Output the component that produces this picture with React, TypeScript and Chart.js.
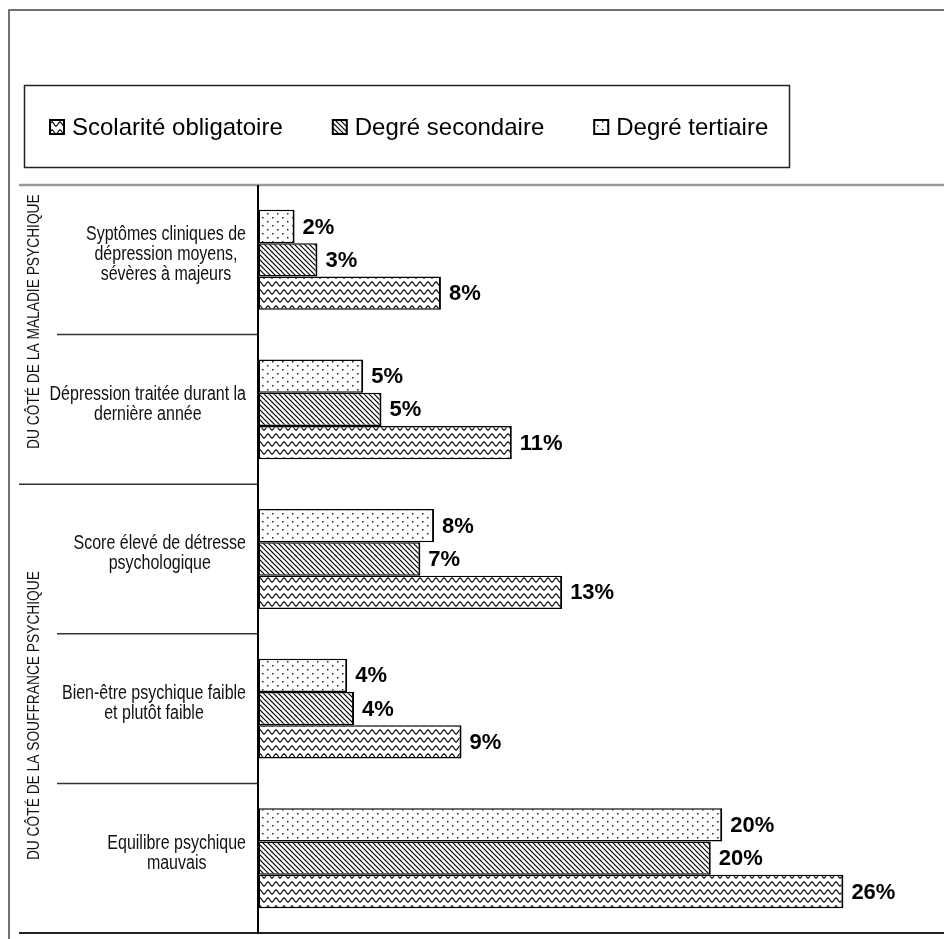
import { useEffect, useRef } from "react";
import { Chart, registerables } from "chart.js";

Chart.register(...registerables);

// Category labels (multi-line), top to bottom
const categories: string[][] = [
  ["Syptômes cliniques de", "dépression moyens,", "sévères à majeurs"],
  ["Dépression traitée durant la", "dernière année"],
  ["Score élevé de détresse", "psychologique"],
  ["Bien-être psychique faible", "et plutôt faible"],
  ["Equilibre psychique", "mauvais"],
];

// Share of people (%) per education level
const tertiaire = [1.6, 4.6, 7.7, 3.9, 20.3];
const secondaire = [2.6, 5.4, 7.1, 4.2, 19.8];
const obligatoire = [8.0, 11.1, 13.3, 8.9, 25.6];

const seriesNames = ["Degré tertiaire", "Degré secondaire", "Scolarité obligatoire"];

// Side groups: label and the first/last category index they cover
const groupNames = ["DU CÔTÉ DE LA MALADIE PSYCHIQUE", "DU CÔTÉ DE LA SOUFFRANCE PSYCHIQUE"];
const groupFirst = [0, 2];
const groupLast = [1, 4];

const xMax = 30;

const W = 944;
const H = 939;

function makeTile(w: number, h: number, paint: (g: CanvasRenderingContext2D) => void) {
  const c = document.createElement("canvas");
  c.width = w;
  c.height = h;
  const g = c.getContext("2d")!;
  g.fillStyle = "#fff";
  g.fillRect(0, 0, w, h);
  paint(g);
  return c;
}

function makePatterns(ctx: CanvasRenderingContext2D) {
  const dots = ctx.createPattern(
    makeTile(10, 8, (g) => {
      g.fillStyle = "#222";
      g.fillRect(2, 1, 1.5, 1.5);
      g.fillRect(7, 5, 1.5, 1.5);
    }),
    "repeat"
  )!;
  const hatch = ctx.createPattern(
    makeTile(5, 5, (g) => {
      g.strokeStyle = "#000";
      g.lineWidth = 1.2;
      for (const o of [-5, 0, 5]) {
        g.beginPath();
        g.moveTo(o - 1, -1);
        g.lineTo(o + 6, 6);
        g.stroke();
      }
    }),
    "repeat"
  )!;
  const wave = ctx.createPattern(
    makeTile(8, 8, (g) => {
      g.strokeStyle = "#000";
      g.lineWidth = 1.2;
      for (const oy of [-8, 0, 8]) {
        g.beginPath();
        for (let x = -1; x <= 9; x += 0.5) {
          const y = oy + 4 + 2 * Math.cos((2 * Math.PI * x) / 8);
          if (x === -1) g.moveTo(x, y);
          else g.lineTo(x, y);
        }
        g.stroke();
      }
    }),
    "repeat"
  )!;
  return { dots, hatch, wave };
}

// Uses a condensed face when installed, otherwise squeezes the regular face horizontally
function narrowFace(ctx: CanvasRenderingContext2D, size: number) {
  const probe = "Dépression traitée DU CÔTÉ";
  ctx.font = `${size}px "Liberation Sans Narrow", monospace`;
  const a = ctx.measureText(probe).width;
  ctx.font = `${size}px monospace`;
  const m = ctx.measureText(probe).width;
  ctx.font = `${size}px "Liberation Sans"`;
  const b = ctx.measureText(probe).width;
  if (Math.abs(a - m) > 0.5 && a / b < 0.9) return { font: `${size}px "Liberation Sans Narrow"`, sx: 1 };
  return { font: `${size}px "Liberation Sans"`, sx: 0.82 };
}

export default function App() {
  const ref = useRef<HTMLCanvasElement>(null);

  useEffect(() => {
    const canvas = ref.current!;
    const ctx = canvas.getContext("2d")!;
    const pat = makePatterns(ctx);
    const fills = [pat.dots, pat.hatch, pat.wave];

    const decorPlugin = {
      id: "decor",
      beforeDraw(chart: Chart) {
        const g = chart.ctx;
        g.save();
        g.fillStyle = "#fff";
        g.fillRect(0, 0, W, H);

        // outer frame (top and left)
        g.strokeStyle = "#444";
        g.lineWidth = 1.5;
        g.beginPath();
        g.moveTo(9, H);
        g.lineTo(9, 10);
        g.lineTo(W, 10);
        g.stroke();

        // legend box
        g.strokeStyle = "#222";
        g.lineWidth = 1.5;
        g.strokeRect(24.5, 85.5, 765, 82);

        const ds = chart.data.datasets;
        const order = [2, 1, 0];
        g.font = '24px "Liberation Sans"';
        g.textBaseline = "middle";
        g.textAlign = "left";
        let x = 50;
        const cy = 127;
        for (const i of order) {
          const box = 14;
          g.fillStyle = ds[i].backgroundColor as CanvasPattern;
          g.fillRect(x, cy - box / 2, box, box);
          g.strokeStyle = "#000";
          g.lineWidth = 2;
          g.strokeRect(x, cy - box / 2, box, box);
          const label = ds[i].label as string;
          g.fillStyle = "#000";
          g.fillText(label, x + box + 8, cy + 1);
          x += box + 8 + g.measureText(label).width + 50;
        }
        g.restore();
      },
      afterDatasetsDraw(chart: Chart) {
        const g = chart.ctx;
        const area = chart.chartArea;
        const ys = chart.scales.y;
        g.save();

        // top rule of the plot
        g.strokeStyle = "#999";
        g.lineWidth = 2.5;
        g.beginPath();
        g.moveTo(19, area.top);
        g.lineTo(W, area.top);
        g.stroke();

        // category separators
        g.strokeStyle = "#333";
        g.lineWidth = 1.5;
        for (let i = 0; i < categories.length - 1; i++) {
          const yb = (ys.getPixelForValue(i) + ys.getPixelForValue(i + 1)) / 2;
          const isGroupEdge = groupFirst.includes(i + 1);
          g.beginPath();
          g.moveTo(isGroupEdge ? 19 : 57, yb);
          g.lineTo(area.left, yb);
          g.stroke();
        }

        // bottom rule
        g.strokeStyle = "#222";
        g.lineWidth = 2;
        g.beginPath();
        g.moveTo(19, area.bottom);
        g.lineTo(W, area.bottom);
        g.stroke();

        // vertical axis line
        g.strokeStyle = "#000";
        g.lineWidth = 2;
        g.beginPath();
        g.moveTo(area.left, area.top);
        g.lineTo(area.left, area.bottom);
        g.stroke();

        // category labels: block right-aligned, lines centred within block
        const cat = narrowFace(g, 19.5);
        g.font = cat.font;
        g.fillStyle = "#111";
        g.textAlign = "center";
        g.textBaseline = "middle";
        const lh = 20;
        const right = 246;
        categories.forEach((lines, i) => {
          const cy = ys.getPixelForValue(i) - 5;
          const maxW = Math.max(...lines.map((l) => g.measureText(l).width)) * cat.sx;
          const cx = right - maxW / 2;
          lines.forEach((line, k) => {
            const y = cy + (k - (lines.length - 1) / 2) * lh;
            g.save();
            g.translate(cx, y);
            g.scale(cat.sx, 1);
            g.fillText(line, 0, 0);
            g.restore();
          });
        });

        // vertical group labels
        const grp = narrowFace(g, 16.8);
        g.font = grp.font;
        g.fillStyle = "#111";
        const shifts = [-13, 7];
        groupNames.forEach((name, gi) => {
          const yTop = (ys.getPixelForValue(groupFirst[gi]) + ys.getPixelForValue(groupFirst[gi] - 1)) / 2;
          const yBot = (ys.getPixelForValue(groupLast[gi]) + ys.getPixelForValue(groupLast[gi] + 1)) / 2;
          const cy = (yTop + yBot) / 2 + shifts[gi];
          g.save();
          g.translate(34, cy);
          g.rotate(-Math.PI / 2);
          g.scale(grp.sx, 1);
          g.fillText(name, 0, 0);
          g.restore();
        });

        // value labels
        g.font = 'bold 22px "Liberation Sans"';
        g.fillStyle = "#000";
        g.textAlign = "left";
        g.textBaseline = "middle";
        chart.data.datasets.forEach((d, di) => {
          const meta = chart.getDatasetMeta(di);
          meta.data.forEach((el: any, j: number) => {
            const v = d.data[j] as number;
            g.fillText(`${Math.round(v)}%`, el.x + 8, el.y + 1);
          });
        });

        g.restore();
      },
    };

    const chart = new Chart(canvas, {
      type: "bar",
      data: {
        labels: categories,
        datasets: [
          { label: seriesNames[0], data: tertiaire, backgroundColor: fills[0] },
          { label: seriesNames[1], data: secondaire, backgroundColor: fills[1] },
          { label: seriesNames[2], data: obligatoire, backgroundColor: fills[2] },
        ].map((d) => ({
          ...d,
          borderColor: "#000",
          borderWidth: { top: 1.5, bottom: 1.5, left: 2, right: 2 },
          borderSkipped: false as const,
          categoryPercentage: 0.668,
          barPercentage: 1,
        })),
      },
      options: {
        indexAxis: "y",
        responsive: false,
        animation: false,
        devicePixelRatio: 1,
        layout: { padding: { left: 258, top: 185, right: 0, bottom: 6 } },
        plugins: {
          legend: { display: false },
          tooltip: { enabled: false },
          title: { display: false },
        },
        scales: {
          x: { display: false, min: 0, max: xMax },
          y: { display: false },
        },
      },
      plugins: [decorPlugin],
    });

    return () => chart.destroy();
  }, []);

  return (
    <canvas
      ref={ref}
      width={W}
      height={H}
      style={{ position: "absolute", left: 0, top: 0, display: "block" }}
    />
  );
}
